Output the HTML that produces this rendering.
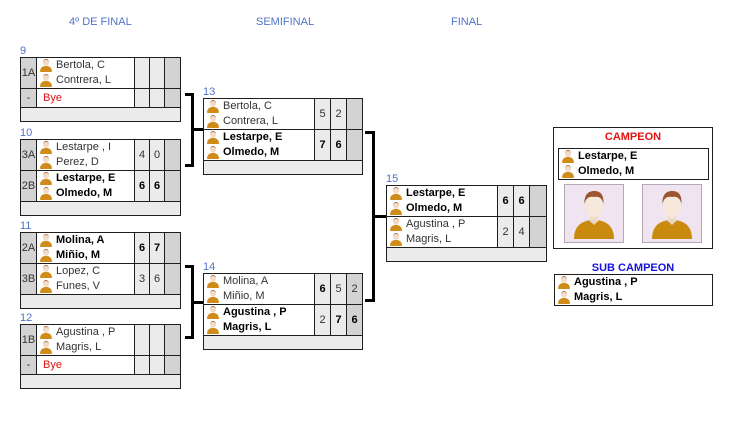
<!DOCTYPE html>
<html><head><meta charset="utf-8">
<style>
html,body{margin:0;padding:0;background:#fff;}
body{width:739px;height:423px;position:relative;overflow:hidden;font-family:"Liberation Sans",Tahoma,sans-serif;font-size:11px;}
.h{position:absolute;top:16px;line-height:13px;font-size:11px;color:#4f73c9;white-space:nowrap}
.lb{position:absolute;line-height:13px;font-size:11px;color:#4f73c9}
.m{position:absolute;background:#1e1e1e}
.c{position:absolute;display:flex;align-items:center;justify-content:center;background:#fff;font-size:11px;color:#333;box-sizing:border-box;overflow:hidden}
.n{flex-direction:column;align-items:flex-start;justify-content:center;padding-left:3px}
.l{height:15px;line-height:15px;white-space:nowrap;display:flex;align-items:center}
.w{font-weight:bold;color:#000}
.bye{color:#e01010;padding-left:3px}
.ic{display:inline-block;width:12px;height:13px;margin-right:4px;position:relative;flex:none}
.ic::before{content:"";position:absolute;left:3px;top:0;width:6px;height:7px;border-radius:50%;background:#f3dcc7;border-top:1px solid #a86a40;box-sizing:border-box}
.ic::after{content:"";position:absolute;left:0;bottom:0;width:12px;height:6px;border-radius:6px 6px 1px 1px;background:#d08c18}
/* quarter columns */
.a{left:1px;width:15px;background:#d3d3d3}
.b{left:17px;width:97px}
.s1{left:115px;width:14px;background:#ebebeb}
.s2{left:130px;width:14px;background:#ebebeb}
.s3{left:145px;width:15px;background:#d3d3d3}
.fq{left:1px;width:159px;background:#ebebeb}
/* semi columns */
.B{left:1px;width:110px}
.t1{left:112px;width:15px;background:#ebebeb}
.t2{left:128px;width:15px;background:#ebebeb}
.t3{left:144px;width:15px;background:#d3d3d3}
.fs{left:1px;width:158px;background:#ebebeb}
/* rows */
.r1{top:1px;height:30px}
.r2{top:32px;height:30px}
.rb{top:32px;height:18px}
.f1{top:63px;height:13px}
.fb{top:51px;height:13px}
.k{position:absolute;background:#000}
.box{position:absolute;border:1px solid #1e1e1e;box-sizing:border-box}
.ph{position:absolute;width:60px;height:59px;background:#efe4ef;border:1px solid #b4a8b4;box-sizing:border-box}
</style></head><body>

<div class="h" style="left:69px">4º DE FINAL</div>
<div class="h" style="left:256px">SEMIFINAL</div>
<div class="h" style="left:451px">FINAL</div>

<!-- Match 9 -->
<div class="lb" style="left:20px;top:45px">9</div>
<div class="m" style="left:20px;top:57px;width:161px;height:65px">
<div class="c a r1">1A</div>
<div class="c n b r1"><div class="l"><i class="ic"></i>Bertola, C</div><div class="l"><i class="ic"></i>Contrera, L</div></div>
<div class="c s1 r1"></div><div class="c s2 r1"></div><div class="c s3 r1"></div>
<div class="c a rb">-</div>
<div class="c n b rb"><div class="l bye">Bye</div></div>
<div class="c s1 rb"></div><div class="c s2 rb"></div><div class="c s3 rb"></div>
<div class="c fq fb"></div>
</div>

<!-- Match 10 -->
<div class="lb" style="left:20px;top:127px">10</div>
<div class="m" style="left:20px;top:139px;width:161px;height:77px">
<div class="c a r1">3A</div>
<div class="c n b r1"><div class="l"><i class="ic"></i>Lestarpe , I</div><div class="l"><i class="ic"></i>Perez, D</div></div>
<div class="c s1 r1">4</div><div class="c s2 r1">0</div><div class="c s3 r1"></div>
<div class="c a r2">2B</div>
<div class="c n b r2 w"><div class="l"><i class="ic"></i>Lestarpe, E</div><div class="l"><i class="ic"></i>Olmedo, M</div></div>
<div class="c s1 r2 w">6</div><div class="c s2 r2 w">6</div><div class="c s3 r2"></div>
<div class="c fq f1"></div>
</div>

<!-- Match 11 -->
<div class="lb" style="left:20px;top:220px">11</div>
<div class="m" style="left:20px;top:232px;width:161px;height:77px">
<div class="c a r1">2A</div>
<div class="c n b r1 w"><div class="l"><i class="ic"></i>Molina, A</div><div class="l"><i class="ic"></i>Miñio, M</div></div>
<div class="c s1 r1 w">6</div><div class="c s2 r1 w">7</div><div class="c s3 r1"></div>
<div class="c a r2">3B</div>
<div class="c n b r2"><div class="l"><i class="ic"></i>Lopez, C</div><div class="l"><i class="ic"></i>Funes, V</div></div>
<div class="c s1 r2">3</div><div class="c s2 r2">6</div><div class="c s3 r2"></div>
<div class="c fq f1"></div>
</div>

<!-- Match 12 -->
<div class="lb" style="left:20px;top:312px">12</div>
<div class="m" style="left:20px;top:324px;width:161px;height:65px">
<div class="c a r1">1B</div>
<div class="c n b r1"><div class="l"><i class="ic"></i>Agustina , P</div><div class="l"><i class="ic"></i>Magris, L</div></div>
<div class="c s1 r1"></div><div class="c s2 r1"></div><div class="c s3 r1"></div>
<div class="c a rb">-</div>
<div class="c n b rb"><div class="l bye">Bye</div></div>
<div class="c s1 rb"></div><div class="c s2 rb"></div><div class="c s3 rb"></div>
<div class="c fq fb"></div>
</div>

<!-- Match 13 -->
<div class="lb" style="left:203px;top:86px">13</div>
<div class="m" style="left:203px;top:98px;width:160px;height:77px">
<div class="c n B r1"><div class="l"><i class="ic"></i>Bertola, C</div><div class="l"><i class="ic"></i>Contrera, L</div></div>
<div class="c t1 r1">5</div><div class="c t2 r1">2</div><div class="c t3 r1"></div>
<div class="c n B r2 w"><div class="l"><i class="ic"></i>Lestarpe, E</div><div class="l"><i class="ic"></i>Olmedo, M</div></div>
<div class="c t1 r2 w">7</div><div class="c t2 r2 w">6</div><div class="c t3 r2"></div>
<div class="c fs f1"></div>
</div>

<!-- Match 14 -->
<div class="lb" style="left:203px;top:261px">14</div>
<div class="m" style="left:203px;top:273px;width:160px;height:77px">
<div class="c n B r1"><div class="l"><i class="ic"></i>Molina, A</div><div class="l"><i class="ic"></i>Miñio, M</div></div>
<div class="c t1 r1 w">6</div><div class="c t2 r1">5</div><div class="c t3 r1">2</div>
<div class="c n B r2 w"><div class="l"><i class="ic"></i>Agustina , P</div><div class="l"><i class="ic"></i>Magris, L</div></div>
<div class="c t1 r2">2</div><div class="c t2 r2 w">7</div><div class="c t3 r2 w">6</div>
<div class="c fs f1"></div>
</div>

<!-- Match 15 -->
<div class="lb" style="left:386px;top:173px">15</div>
<div class="m" style="left:386px;top:185px;width:161px;height:77px">
<div class="c n B r1 w"><div class="l"><i class="ic"></i>Lestarpe, E</div><div class="l"><i class="ic"></i>Olmedo, M</div></div>
<div class="c t1 r1 w">6</div><div class="c t2 r1 w">6</div><div class="c t3 r1" style="width:16px"></div>
<div class="c n B r2"><div class="l"><i class="ic"></i>Agustina , P</div><div class="l"><i class="ic"></i>Magris, L</div></div>
<div class="c t1 r2">2</div><div class="c t2 r2">4</div><div class="c t3 r2" style="width:16px"></div>
<div class="c fs f1" style="width:159px"></div>
</div>

<!-- Bracket A -->
<div class="k" style="left:185px;top:93px;width:9px;height:3px"></div>
<div class="k" style="left:191px;top:93px;width:3px;height:74px"></div>
<div class="k" style="left:185px;top:164px;width:9px;height:3px"></div>
<div class="k" style="left:191px;top:128px;width:12px;height:3px"></div>
<!-- Bracket B -->
<div class="k" style="left:185px;top:265px;width:9px;height:3px"></div>
<div class="k" style="left:191px;top:265px;width:3px;height:74px"></div>
<div class="k" style="left:185px;top:336px;width:9px;height:3px"></div>
<div class="k" style="left:191px;top:301px;width:12px;height:3px"></div>
<!-- Bracket C -->
<div class="k" style="left:365px;top:131px;width:10px;height:3px"></div>
<div class="k" style="left:372px;top:131px;width:3px;height:171px"></div>
<div class="k" style="left:365px;top:299px;width:10px;height:3px"></div>
<div class="k" style="left:372px;top:215px;width:14px;height:3px"></div>

<!-- Campeon -->
<div class="box" style="left:553px;top:127px;width:160px;height:122px"></div>
<div style="position:absolute;left:553px;top:131px;width:160px;text-align:center;line-height:13px;font-weight:bold;color:#e81010;font-size:11px">CAMPEON</div>
<div class="box" style="left:558px;top:148px;width:151px;height:32px;padding:0 0 0 3px;display:flex;flex-direction:column;justify-content:center;font-weight:bold;color:#000">
<div class="l"><i class="ic"></i>Lestarpe, E</div><div class="l"><i class="ic"></i>Olmedo, M</div></div>

<div class="ph" style="left:564px;top:184px">
<svg width="58" height="57" viewBox="0 0 58 57"><path d="M9 54 C9 40 18 35 29 35 C40 35 49 40 49 54 Z" fill="#c98a0e"/><rect x="25" y="28" width="8" height="9" fill="#eedccc"/><path d="M24 35 L29 40 L34 35 Z" fill="#e8d6c4"/><ellipse cx="29" cy="20" rx="9" ry="12" fill="#f6e9dc"/><path d="M19.5 19 C19 9 24 6 29 6 C35 6 39 9 38.5 19 C37 13 34 11 29 12 C24 11 21 13 19.5 19 Z" fill="#9b5530"/></svg>
</div>
<div class="ph" style="left:642px;top:184px">
<svg width="58" height="57" viewBox="0 0 58 57"><path d="M9 54 C9 40 18 35 29 35 C40 35 49 40 49 54 Z" fill="#c98a0e"/><rect x="25" y="28" width="8" height="9" fill="#eedccc"/><path d="M24 35 L29 40 L34 35 Z" fill="#e8d6c4"/><ellipse cx="29" cy="20" rx="9" ry="12" fill="#f6e9dc"/><path d="M19.5 19 C19 9 24 6 29 6 C35 6 39 9 38.5 19 C37 13 34 11 29 12 C24 11 21 13 19.5 19 Z" fill="#9b5530"/></svg>
</div>

<!-- Sub campeon -->
<div style="position:absolute;left:553px;top:262px;width:160px;text-align:center;line-height:13px;font-weight:bold;color:#1414d8;font-size:11px">SUB CAMPEON</div>
<div class="box" style="left:554px;top:274px;width:159px;height:32px;padding:0 0 0 3px;display:flex;flex-direction:column;justify-content:center;font-weight:bold;color:#000">
<div class="l"><i class="ic"></i>Agustina , P</div><div class="l"><i class="ic"></i>Magris, L</div></div>

</body></html>
